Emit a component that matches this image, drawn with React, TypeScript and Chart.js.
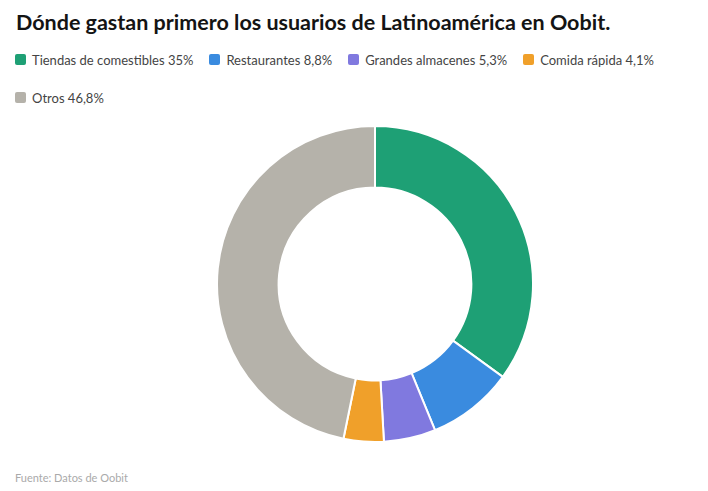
import React, { useEffect, useRef } from "react";
import { Chart, registerables } from "chart.js";

Chart.register(...registerables);

const TITLE = "Dónde gastan primero los usuarios de Latinoamérica en Oobit.";
const SOURCE = "Fuente: Datos de Oobit";
const categories = ["Tiendas de comestibles", "Restaurantes", "Grandes almacenes", "Comida rápida", "Otros"];
const values = [35, 8.8, 5.3, 4.1, 46.8];
const valueLabels = ["35%", "8,8%", "5,3%", "4,1%", "46,8%"];
const colors = ["#1EA075", "#3A8BDF", "#8079DF", "#F0A02A", "#B5B2AA"];

export default function App() {
  const ref = useRef<HTMLCanvasElement | null>(null);

  useEffect(() => {
    if (!ref.current) return;
    const chart = new Chart(ref.current, {
      type: "doughnut",
      data: {
        labels: categories,
        datasets: [
          {
            data: values,
            backgroundColor: colors,
            borderColor: "#ffffff",
            borderWidth: 2,
            hoverOffset: 0,
          },
        ],
      },
      options: {
        responsive: false,
        maintainAspectRatio: false,
        animation: false,
        cutout: "61%",
        layout: { padding: 0 },
        plugins: {
          legend: { display: false },
          tooltip: { enabled: false },
          title: { display: false },
        },
      },
    });
    return () => chart.destroy();
  }, []);

  return (
    <div
      style={{
        position: "absolute",
        left: 0,
        top: 0,
        width: 708,
        height: 491,
        background: "#fff",
        fontFamily: "Lato, 'Open Sans', sans-serif",
        overflow: "hidden",
      }}
    >
      <div
        style={{
          position: "absolute",
          left: 16,
          top: 9,
          fontSize: 21.5,
          fontWeight: 700,
          color: "#141414",
          lineHeight: "26px",
          whiteSpace: "nowrap",
        }}
      >
        {TITLE}
      </div>
      <div
        style={{
          position: "absolute",
          left: 15,
          top: 50,
          width: 690,
          display: "flex",
          flexWrap: "wrap",
          rowGap: 19,
          columnGap: 16,
        }}
      >
        {categories.map((c, i) => (
          <div
            key={c}
            style={{ display: "flex", alignItems: "center", height: 19, fontSize: 13, color: "#444" }}
          >
            <span
              style={{
                display: "inline-block",
                width: 11,
                height: 11,
                borderRadius: 2,
                background: colors[i],
                marginRight: 6,
              }}
            />
            <span>
              {c} {valueLabels[i]}
            </span>
          </div>
        ))}
      </div>
      <canvas
        ref={ref}
        width={318}
        height={318}
        style={{ position: "absolute", left: 216, top: 125, width: 318, height: 318 }}
      />
      <div
        style={{
          position: "absolute",
          left: 15,
          top: 471,
          fontSize: 11,
          color: "#aaa",
          whiteSpace: "nowrap",
        }}
      >
        {SOURCE}
      </div>
    </div>
  );
}
